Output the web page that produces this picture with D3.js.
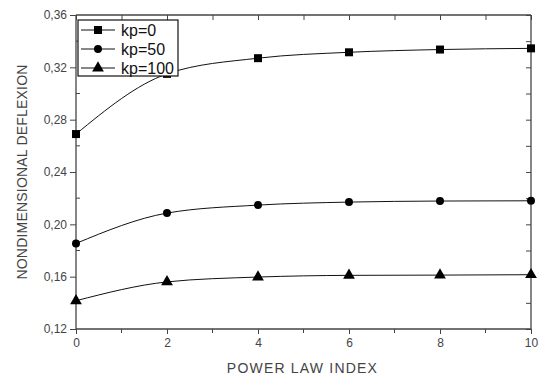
<!DOCTYPE html>
<html lang="en">
<head>
<meta charset="utf-8">
<title>Nondimensional deflexion vs power law index</title>
<script src="https://cdnjs.cloudflare.com/ajax/libs/d3/7.8.5/d3.min.js"></script>
<style>
  body { margin: 0; background: #fff; }
  svg { font-family: Arial, "Liberation Sans", sans-serif; }
  .tick text { fill: #444; font-size: 12px; }
  .axis-title { fill: #444; font-size: 14px; }
</style>
</head>
<body>
<svg width="539" height="378"></svg>
<script>
// data
var powerIndex = [0, 2, 4, 6, 8, 10];
var kp0   = [0.269, 0.315, 0.327, 0.3315, 0.3336, 0.3345];
var kp50  = [0.1854, 0.2086, 0.2147, 0.217, 0.2178, 0.218];
var kp100 = [0.1416, 0.156, 0.1597, 0.161, 0.1612, 0.1615];
var seriesNames = ["kp=0", "kp=50", "kp=100"];
var xTicks = [0, 2, 4, 6, 8, 10];
var yTicks = [0.12, 0.16, 0.20, 0.24, 0.28, 0.32, 0.36];

var svg = d3.select("svg"),
    margin = {top: 15, right: 8, bottom: 49, left: 76},
    width = +svg.attr("width") - margin.left - margin.right,
    height = +svg.attr("height") - margin.top - margin.bottom;

var x = d3.scaleLinear().domain([0, 10]).range([0, width]),
    y = d3.scaleLinear().domain([0.12, 0.36]).range([height, 0]);

var g = svg.append("g")
    .attr("transform", "translate(" + margin.left + "," + margin.top + ")");

var fmt = function(d) { return d3.format(".2f")(d).replace(".", ","); };
var axisColor = "#444";

// minor ticks: bottom/left outside, top/right inside
var xMinor = d3.range(1, 10, 2), yMinor = d3.range(0.14, 0.36, 0.04);

var xAxis = g.append("g")
    .attr("transform", "translate(0," + height + ")")
    .call(d3.axisBottom(x).tickValues(xTicks).tickSize(5).tickPadding(4).tickFormat(d3.format("d")));
xAxis.append("g").selectAll("line").data(xMinor).enter().append("line")
    .attr("x1", function(d) { return x(d); }).attr("x2", function(d) { return x(d); })
    .attr("y1", 0).attr("y2", 4).attr("stroke", axisColor);

var yAxis = g.append("g")
    .call(d3.axisLeft(y).tickValues(yTicks).tickSize(6).tickPadding(3).tickFormat(fmt));
yAxis.append("g").selectAll("line").data(yMinor).enter().append("line")
    .attr("y1", function(d) { return y(d); }).attr("y2", function(d) { return y(d); })
    .attr("x1", 0).attr("x2", 4).attr("stroke", axisColor);

var topAxis = g.append("g")
    .call(d3.axisBottom(x).tickValues(xTicks.concat(xMinor)).tickSize(5).tickFormat(""));
var rightAxis = g.append("g")
    .attr("transform", "translate(" + width + ",0)")
    .call(d3.axisLeft(y).tickValues(yTicks.concat(yMinor)).tickSize(5).tickFormat(""));

g.selectAll(".domain").attr("stroke", axisColor).attr("stroke-width", 1.3);
g.selectAll(".tick line").attr("stroke", axisColor);
xAxis.select(".domain").attr("d", "M0,0H" + width);
yAxis.select(".domain").attr("d", "M0,0V" + height);
topAxis.select(".domain").attr("d", "M0,0H" + width);
rightAxis.select(".domain").attr("d", "M0,0V" + height);

// titles
svg.append("text").attr("class", "axis-title")
    .attr("x", margin.left + width / 2 - 1).attr("y", 373)
    .style("text-anchor", "middle").style("letter-spacing", "1.2px")
    .text("POWER LAW INDEX");
svg.append("text").attr("class", "axis-title")
    .attr("transform", "translate(27," + (margin.top + height / 2) + ") rotate(-90)")
    .style("text-anchor", "middle").style("letter-spacing", "0.2px")
    .text("NONDIMENSIONAL DEFLEXION");

// series
var allSeries = [kp0, kp50, kp100];
var symbols = [d3.symbolSquare, d3.symbolCircle, d3.symbolTriangle];
var symSizes = [64, 50, 60];

var line = d3.line()
    .x(function(d, i) { return x(powerIndex[i]); })
    .y(function(d) { return y(d); })
    .curve(d3.curveMonotoneX);

allSeries.forEach(function(vals, k) {
  g.append("path").datum(vals)
    .attr("fill", "none").attr("stroke", "#111").attr("stroke-width", 1)
    .attr("d", line);
  g.selectAll(".pt" + k).data(vals).enter().append("path")
    .attr("class", "pt" + k)
    .attr("transform", function(d, i) { return "translate(" + x(powerIndex[i]) + "," + y(d) + ")"; })
    .attr("d", d3.symbol().type(symbols[k]).size(symSizes[k]))
    .attr("fill", "#000");
});

// legend
var leg = svg.append("g").attr("transform", "translate(78,20)");
leg.append("rect").attr("width", 100).attr("height", 56)
  .attr("fill", "#fff").attr("stroke", "#111").attr("stroke-width", 1.2);
seriesNames.forEach(function(name, k) {
  var yy = 10 + k * 19;
  leg.append("line").attr("x1", 3).attr("x2", 37).attr("y1", yy).attr("y2", yy)
    .attr("stroke", "#111");
  leg.append("path").attr("transform", "translate(20," + yy + ")")
    .attr("d", d3.symbol().type(symbols[k]).size(symSizes[k])).attr("fill", "#000");
  leg.append("text").attr("x", 43).attr("y", yy + 5.5)
    .style("font-size", "16px").attr("fill", "#111").text(name);
});
</script>
</body>
</html>
